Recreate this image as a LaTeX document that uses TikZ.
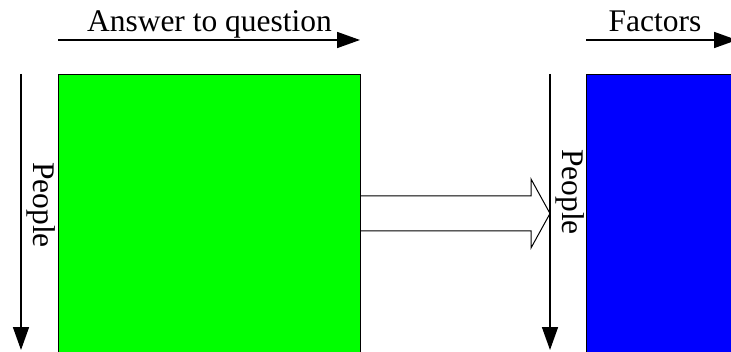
\documentclass[tikz,border=0pt]{standalone}
\usepackage{fontspec}
\setmainfont{Liberation Serif}
\usetikzlibrary{arrows.meta}

\begin{document}
\begin{tikzpicture}[x=1pt,y=1pt,
  axis/.style={line width=1.6pt, -{Triangle[length=23pt,width=16pt]}},
  matrixbox/.style={draw=black, line width=1.4pt, inner sep=0pt, anchor=north west},
  label/.style={font=\fontsize{31.5}{34}\selectfont, inner sep=0pt}]
\clip (0,0) rectangle (731,351);
% transfer arrow (behind the boxes)
\coordinate (tip) at (550,137.5);
\draw[line width=1pt, fill=white] (350,155) -- (531,155) -- (531,172) -- (tip)
  -- (531,103) -- (531,120) -- (350,120);
% data matrices
\node[matrixbox, fill={rgb,255:red,0;green,255;blue,0}, minimum width=302pt, minimum height=320pt] (answers) at (58,277) {};
\node[matrixbox, fill={rgb,255:red,0;green,0;blue,255}, minimum width=302pt, minimum height=320pt] (factors) at (586,277) {};
% column axes
\coordinate (qstart) at (58,311);
\coordinate (qend) at (360,311);
\coordinate (fstart) at (586,311);
\coordinate (fend) at (737,311);
\draw[axis] (qstart) -- (qend);
\draw[axis] (fstart) -- (fend);
\node[label, anchor=base] (qlabel) at (209.5,319) {Answer to question};
\node[label, anchor=base] (flabel) at (655,319) {Factors};
% row axes
\coordinate (pstartA) at (21,277);
\coordinate (pendA) at (21,1);
\coordinate (pstartB) at (550,277);
\coordinate (pendB) at (550,1);
\draw[axis] (pstartA) -- (pendA);
\draw[axis] (pstartB) -- (pendB);
\node[label, rotate=-90, anchor=base] (plabelA) at (33,146) {People};
\node[label, rotate=-90, anchor=base] (plabelB) at (562,159) {People};
\end{tikzpicture}
\end{document}
